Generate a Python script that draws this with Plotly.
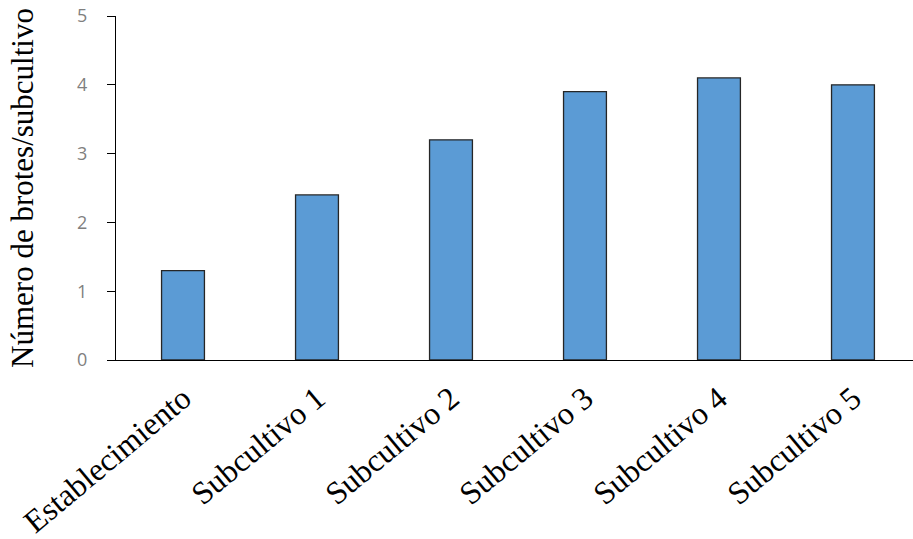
import plotly.graph_objects as go

categories = ["Establecimiento", "Subcultivo 1", "Subcultivo 2", "Subcultivo 3", "Subcultivo 4", "Subcultivo 5"]
values = [1.3, 2.4, 3.2, 3.9, 4.1, 4.0]
y_ticks = [0, 1, 2, 3, 4, 5]
y_title = "Número de brotes/subcultivo"

SERIF = "Liberation Serif"

fig = go.Figure(
    go.Bar(
        x=categories,
        y=values,
        marker=dict(color="#5b9bd5", line=dict(color="#262626", width=1.3)),
        width=0.32,
    )
)

fig.update_layout(
    width=913,
    height=539,
    margin=dict(l=116, r=0, t=16, b=179),
    paper_bgcolor="white",
    plot_bgcolor="white",
    showlegend=False,
)

fig.update_xaxes(
    range=[-0.5, 5.448],
    automargin=False,
    showline=True,
    linecolor="black",
    linewidth=1.3,
    ticks="",
    tickangle=-40,
    tickfont=dict(family=SERIF, size=32, color="black"),
    ticklabelstandoff=6,
    showgrid=False,
)

fig.update_yaxes(
    range=[0, 5],
    automargin=False,
    tickvals=y_ticks,
    showline=True,
    linecolor="black",
    linewidth=1.3,
    ticks="outside",
    ticklen=8,
    tickcolor="black",
    tickwidth=1.3,
    tickfont=dict(family="Open Sans", size=18, color="#7f7f7f"),
    ticklabelstandoff=16,
    showgrid=False,
    zeroline=False,
    title=dict(text=y_title, font=dict(family=SERIF, size=31, color="black"), standoff=34),
)

fig.write_html("out.html")
